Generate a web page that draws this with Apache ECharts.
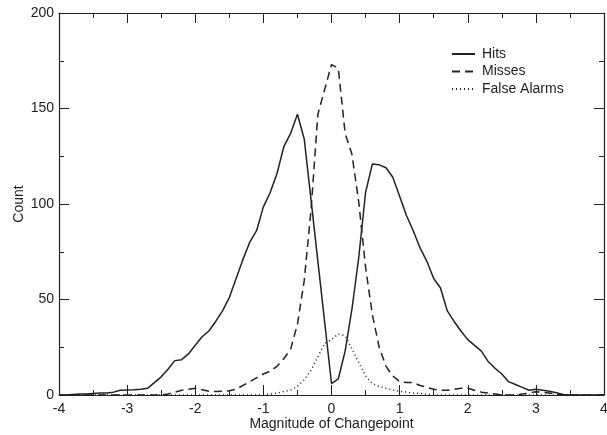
<!DOCTYPE html>
<html>
<head>
<meta charset="utf-8">
<script src="https://cdn.jsdelivr.net/npm/echarts@6/dist/echarts.min.js"></script>
<style>html,body{margin:0;padding:0;background:#fff}#c{width:607px;height:435px}</style>
</head>
<body>
<div id="c"></div>
<script>
var magnitudes = [-4.0,-3.9,-3.8,-3.7,-3.6,-3.5,-3.4,-3.3,-3.2,-3.1,-3.0,-2.9,-2.8,-2.7,-2.6,-2.5,-2.4,-2.3,-2.2,-2.1,-2.0,-1.9,-1.8,-1.7,-1.6,-1.5,-1.4,-1.3,-1.2,-1.1,-1.0,-0.9,-0.8,-0.7,-0.6,-0.5,-0.4,-0.3,-0.2,-0.1,0.0,0.1,0.2,0.3,0.4,0.5,0.6,0.7,0.8,0.9,1.0,1.1,1.2,1.3,1.4,1.5,1.6,1.7,1.8,1.9,2.0,2.1,2.2,2.3,2.4,2.5,2.6,2.7,2.8,2.9,3.0,3.1,3.2,3.3,3.4,3.5,3.6,3.7,3.8,3.9,4.0];
var hits = [0,0,0.3,0.5,0.5,0.8,1,1,1.5,2.5,2.6,2.7,3,3.5,6.5,9.5,13.5,18,18.5,21.5,26,30.5,33.5,38.5,44,51,61,71,80,86,98.5,106,116,130,137,147,134,102,70,38,6,8.5,23,45,72,106,121,120.5,119,114,104,94,86,77,70,61,56,44,38.5,33.5,29,26,23,17.5,14,11,7,5.5,4,2.5,3,2.5,2,1.2,0.3,0,0,0,0,0,0];
var misses = [0,0,0,0,0,0,0,0,0,0,0,0,0,0,0,0,0.5,1.5,2.5,3,3.5,2.8,2,1.8,2,2.2,3,5,7,9,11,12.5,15,19,24,37,60,97,147,160,173,171,137,126,101,67,42,25,15,10,7,6.5,6.5,5,4,3,2.5,2.5,3,3.5,3.5,2.5,1.5,1,0.5,0,0,0,0.5,1,1.7,1.5,1,0.5,0,0,0,0,0,0,0];
var falseAlarms = [0,0,0,0,0,0,0,0,0,0,0,0,0,0,0,0,0,0,0,0,0,0,0,0,0,0,0,0,0,0,0.3,0.5,1,1.8,2.6,4.5,8,13,20,27,29,32,31,24,17,10,6,4.5,3.5,2.6,2,1.5,1,0.8,0.5,0,0,0,0,0,0,0,0,0,0,0,0,0,0,0,0,0,0,0,0,0,0,0,0,0,0];
var seriesNames = ['Hits','Misses','False Alarms'];
var xTitle = 'Magnitude of Changepoint';
var yTitle = 'Count';

function pairs(vals){ return magnitudes.map(function(x,i){ return [x, vals[i]]; }); }

var FONT = 'Liberation Sans, Arial, Helvetica, sans-serif';
var INK = '#222';
var chart = echarts.init(document.getElementById('c'), null, {renderer:'canvas'});

function xAx(pos, labels){
  return {
    type:'value', position:pos, min:-4, max:4, interval:1,
    name: labels ? xTitle : '', nameLocation:'middle', nameGap:22, nameMoveOverlap:false,
    nameTextStyle:{fontFamily:FONT, fontSize:14, color:INK},
    axisLine:{show:true, onZero:false, lineStyle:{color:INK, width:1.2}},
    axisTick:{show:true, inside:true, length:10, lineStyle:{color:INK, width:1}},
    minorTick:{show:true, splitNumber:2, length:5, lineStyle:{color:INK, width:1}},
    axisLabel:{show:labels, margin:7, fontFamily:FONT, fontSize:14, color:INK},
    splitLine:{show:false}
  };
}
function yAx(pos, labels){
  return {
    type:'value', position:pos, min:0, max:200, interval:50,
    name: labels ? yTitle : '', nameLocation:'middle', nameGap:33, nameRotate:90, nameMoveOverlap:false,
    nameTextStyle:{fontFamily:FONT, fontSize:14, color:INK},
    axisLine:{show:true, onZero:false, lineStyle:{color:INK, width:1.2}},
    axisTick:{show:true, inside:true, length:10, lineStyle:{color:INK, width:1}},
    minorTick:{show:true, splitNumber:2, length:5, lineStyle:{color:INK, width:1}},
    axisLabel:{show:labels, margin:5, fontFamily:FONT, fontSize:14, color:INK},
    splitLine:{show:false}
  };
}

function lineSeries(name, vals, type){
  return {
    name:name, type:'line', xAxisIndex:0, yAxisIndex:0,
    data:pairs(vals), symbol:'none', showSymbol:false, smooth:false, animation:false,
    lineStyle:{color:INK, width:1.5, type:type},
    itemStyle:{color:INK}
  };
}

chart.setOption({
  backgroundColor:'#fff',
  animation:false,
  grid:{left:59, right:3, top:13, bottom:40, containLabel:false, outerBoundsMode:'none'},
  xAxis:[xAx('bottom', true), xAx('top', false)],
  yAxis:[yAx('left', true), yAx('right', false)],
  legend:{
    orient:'vertical', left:446, top:42, itemWidth:23, itemHeight:10, itemGap:3.5,
    data:seriesNames,
    itemStyle:{opacity:0},
    textStyle:{fontFamily:FONT, fontSize:14, color:INK, padding:[0,0,0,2]}
  },
  series:[
    lineSeries(seriesNames[0], hits, 'solid'),
    lineSeries(seriesNames[1], misses, [8,5]),
    lineSeries(seriesNames[2], falseAlarms, [1,3])
  ]
});
</script>
</body>
</html>
